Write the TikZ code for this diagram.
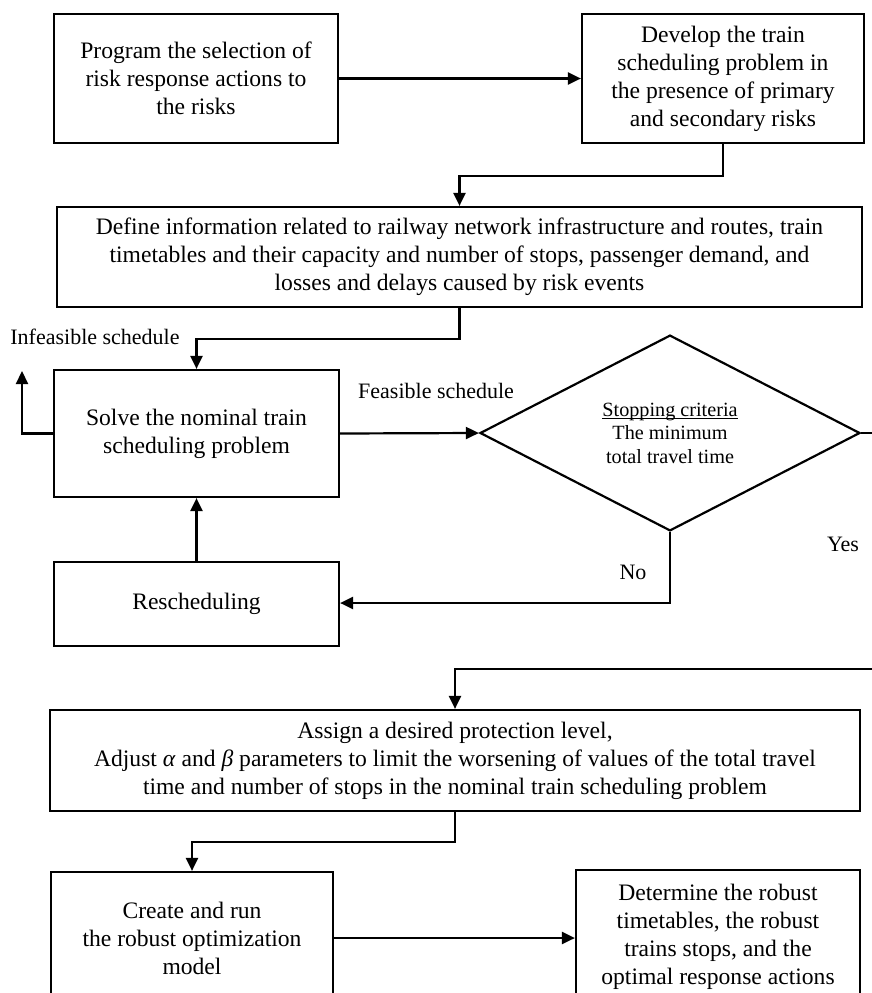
\documentclass[tikz,border=0pt]{standalone}
\usepackage{fontspec}
\setmainfont{Liberation Serif}
\usetikzlibrary{arrows.meta,shapes.geometric}
\newcommand\myul[1]{\setbox0\hbox{#1}\rlap{\rule[-2.5pt]{\wd0}{1pt}}\box0}
\tikzset{
  box/.style={draw, line width=2.2pt, rectangle, align=center, inner sep=2pt,
    font=\fontsize{23.6}{28}\selectfont},
  lbl/.style={inner sep=0pt, font=\fontsize{22}{26}\selectfont},
  conn/.style={line width=2.2pt},
  arr/.style={line width=2.2pt, -{Triangle[length=13pt,width=12pt]}},
}
\begin{document}
\begin{tikzpicture}[x=1pt,y=-1pt]
\path[use as bounding box, clip] (0,0) rectangle (872,993);
\fill[white] (0,0) rectangle (872,993);

\node[box, minimum width=284pt, minimum height=129pt] (b1) at (196,78.5)
  {Program the selection of\\risk response actions to\\the risks};
\node[box, minimum width=282pt, minimum height=129pt] (b2) at (723,78.5)
  {Develop the train\\scheduling problem in\\the presence of primary\\and secondary risks};
\node[box, minimum width=805pt, minimum height=100pt] (b3) at (459.5,257)
  {Define information related to railway network infrastructure and routes, train\\timetables and their capacity and number of stops, passenger demand, and\\losses and delays caused by risk events};
\node[box, minimum width=285pt, minimum height=127pt] (b4) at (196.5,433.5)
  {Solve the nominal train\\scheduling problem};
\node[box, minimum width=285pt, minimum height=84pt] (b5) at (196.5,604)
  {Rescheduling};
\node[draw, diamond, line width=2.2pt, minimum width=380pt, minimum height=172pt,
  inner sep=0pt, align=center, font=\fontsize{20.2}{23.5}\selectfont] (d) at (670,433)
  {\myul{Stopping criteria}\\The minimum\\total travel time};
\node[box, minimum width=810pt, minimum height=101pt] (b6) at (455,760.5)
  {Assign a desired protection level,\\Adjust \textit{α} and \textit{β} parameters to limit the worsening of values of the total travel\\time and number of stops in the nominal train scheduling problem};
\node[box, minimum width=282pt, minimum height=132pt] (b7) at (192,938)
  {Create and run\\the robust optimization\\model};
\node[box, minimum width=284pt, minimum height=134pt] (b8) at (718,937)
  {Determine the robust\\timetables, the robust\\trains stops, and the\\optimal response actions};

\node[lbl] (linf) at (95,337) {Infeasible schedule};
\node[lbl, anchor=west] (lfeas) at (358,391) {Feasible schedule};
\node[lbl] (lyes) at (843,544) {Yes};
\node[lbl] (lno) at (633,572) {No};

\coordinate (fbk) at (22,371);
\coordinate (yesR) at (885,433);
\coordinate (yesIn) at (885,669);

\draw[arr] (b1.east) -- (b2.west |- b1.east);
\draw[arr] (b2.south) -- ++(0,32) -| (b3.north);
\draw[arr] (b3.south) -- ++(0,31) -| (b4.north);
\draw[arr] (b4.west) -| (fbk);
\draw[arr] (b4.east) -- (d.west);
\draw[arr] (b5.north) -- (b4.south);
\draw[arr] (d.south) |- (b5.east |- 0,603);
\draw[conn] (d.east) -- (yesR);
\draw[arr] (yesIn) -| (b6.north);
\draw[arr] (b6.south) -- ++(0,30) -| (b7.north);
\draw[arr] (b7.east) -- (b8.west |- b7.east);
\end{tikzpicture}
\end{document}
